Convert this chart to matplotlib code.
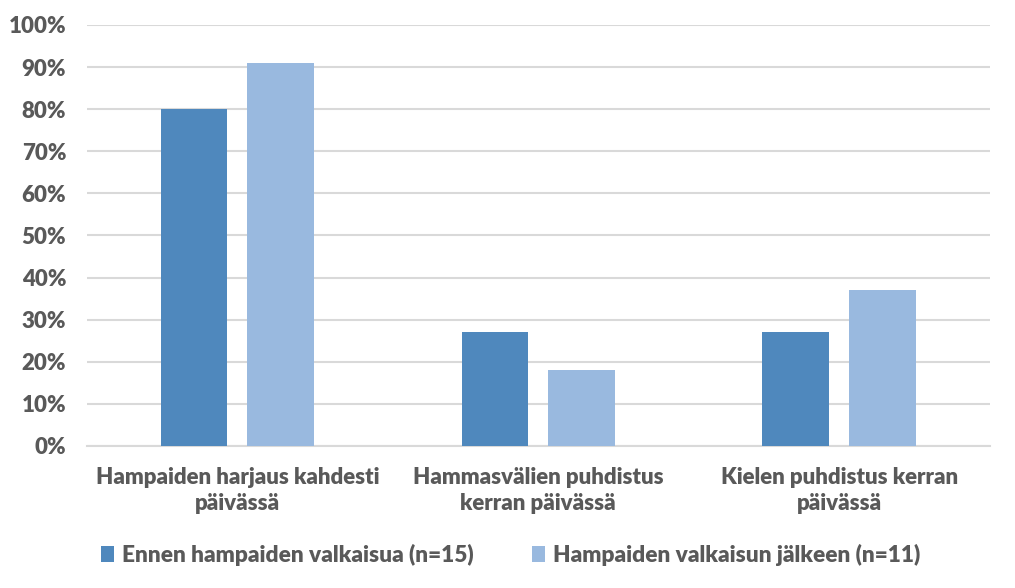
import numpy as np
import matplotlib.pyplot as plt
from matplotlib.ticker import PercentFormatter

categories = ['Hampaiden harjaus kahdesti\npäivässä',
              'Hammasvälien puhdistus\nkerran päivässä',
              'Kielen puhdistus kerran\npäivässä']
ennen = [80, 27, 27]
jalkeen = [91, 18, 37]
series_names = ['Ennen hampaiden valkaisua (n=15)',
                'Hampaiden valkaisun jälkeen (n=11)']

txt = '#595959'
plt.rcParams['font.family'] = ['Lato', 'DejaVu Sans']

fig = plt.figure(figsize=(10.15, 5.88), dpi=100)
ax = fig.add_axes([0.0857, 0.2415, 0.8893, 0.716])

x = np.arange(len(categories))
w = 0.222
b1 = ax.bar(x - 0.144, ennen, w, color='#4F88BD', zorder=3, label=series_names[0])
b2 = ax.bar(x + 0.144, jalkeen, w, color='#99B9DF', zorder=3, label=series_names[1])

ax.set_xlim(-0.5, 2.5)
ax.set_ylim(0, 100)
ax.set_yticks(np.arange(0, 101, 10))
ax.yaxis.set_major_formatter(PercentFormatter(decimals=0))
ax.grid(axis='y', color='#D9D9D9', linewidth=1.5, zorder=0)
for s in ['top', 'right', 'left']:
    ax.spines[s].set_visible(False)
ax.spines['bottom'].set_color('#D9D9D9')
ax.spines['bottom'].set_linewidth(1.5)
ax.tick_params(axis='both', length=0, colors=txt, labelsize=16)
ax.tick_params(axis='y', pad=15)
ax.tick_params(axis='x', pad=15)
ax.set_xticks(x)
ax.set_xticklabels(categories, fontweight='heavy', linespacing=1.3)
for t in ax.get_yticklabels():
    t.set_fontweight('heavy')

leg = fig.legend(handles=[b1, b2], labels=series_names, loc='center',
                 bbox_to_anchor=(0.503, 0.056), ncol=2, frameon=False,
                 handlelength=0.55, handleheight=0.7, handletextpad=0.35,
                 columnspacing=2.6,
                 prop={'weight': 'heavy', 'size': 16.3})
for t in leg.get_texts():
    t.set_color(txt)

fig.savefig('out.png', dpi=100)
